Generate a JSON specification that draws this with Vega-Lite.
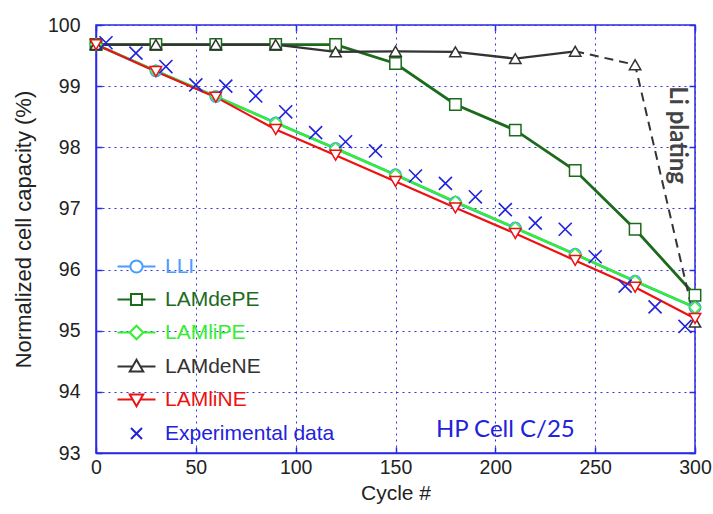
{
  "$schema": "https://vega.github.io/schema/vega-lite/v6.json",
  "width": 599,
  "height": 428,
  "autosize": "none",
  "padding": {"left": 96, "top": 25, "right": 18, "bottom": 61},
  "background": "white",
  "config": {
    "view": {"stroke": "#2a2ae6", "strokeWidth": 1.5},
    "axis": {
      "labelFont": "Liberation Sans",
      "titleFont": "Liberation Sans",
      "labelFontSize": 19.5,
      "titleFontSize": 21,
      "labelColor": "#222222",
      "titleColor": "#222222",
      "titleFontWeight": "normal",
      "domainColor": "#2a2ae6",
      "domainWidth": 1.5,
      "gridColor": "#3333e0",
      "gridDash": [2, 4],
      "gridWidth": 1,
      "gridOpacity": 1,
      "ticks": true,
      "tickSize": -6,
      "tickColor": "#2a2ae6",
      "tickWidth": 1.5,
      "labelFlush": false
    }
  },
  "resolve": {"axis": {"x": "independent", "y": "independent"}},
  "datasets": {
    "model": [
      {"series": "LLI", "cycle": 0, "cap": 99.68},
      {"series": "LLI", "cycle": 30, "cap": 99.25},
      {"series": "LLI", "cycle": 60, "cap": 98.83},
      {"series": "LLI", "cycle": 90, "cap": 98.40},
      {"series": "LLI", "cycle": 120, "cap": 97.98},
      {"series": "LLI", "cycle": 150, "cap": 97.55},
      {"series": "LLI", "cycle": 180, "cap": 97.10},
      {"series": "LLI", "cycle": 210, "cap": 96.68},
      {"series": "LLI", "cycle": 240, "cap": 96.25},
      {"series": "LLI", "cycle": 270, "cap": 95.81},
      {"series": "LLI", "cycle": 300, "cap": 95.38},
      {"series": "LAMdePE", "cycle": 0, "cap": 99.68},
      {"series": "LAMdePE", "cycle": 30, "cap": 99.68},
      {"series": "LAMdePE", "cycle": 60, "cap": 99.68},
      {"series": "LAMdePE", "cycle": 90, "cap": 99.68},
      {"series": "LAMdePE", "cycle": 120, "cap": 99.68},
      {"series": "LAMdePE", "cycle": 150, "cap": 99.37},
      {"series": "LAMdePE", "cycle": 180, "cap": 98.70},
      {"series": "LAMdePE", "cycle": 210, "cap": 98.28},
      {"series": "LAMdePE", "cycle": 240, "cap": 97.62},
      {"series": "LAMdePE", "cycle": 270, "cap": 96.66},
      {"series": "LAMdePE", "cycle": 300, "cap": 95.58},
      {"series": "LAMliPE", "cycle": 0, "cap": 99.68},
      {"series": "LAMliPE", "cycle": 30, "cap": 99.25},
      {"series": "LAMliPE", "cycle": 60, "cap": 98.83},
      {"series": "LAMliPE", "cycle": 90, "cap": 98.40},
      {"series": "LAMliPE", "cycle": 120, "cap": 97.98},
      {"series": "LAMliPE", "cycle": 150, "cap": 97.55},
      {"series": "LAMliPE", "cycle": 180, "cap": 97.11},
      {"series": "LAMliPE", "cycle": 210, "cap": 96.68},
      {"series": "LAMliPE", "cycle": 240, "cap": 96.25},
      {"series": "LAMliPE", "cycle": 270, "cap": 95.81},
      {"series": "LAMliPE", "cycle": 300, "cap": 95.38},
      {"series": "LAMdeNE", "cycle": 0, "cap": 99.68},
      {"series": "LAMdeNE", "cycle": 30, "cap": 99.68},
      {"series": "LAMdeNE", "cycle": 60, "cap": 99.68},
      {"series": "LAMdeNE", "cycle": 90, "cap": 99.68},
      {"series": "LAMdeNE", "cycle": 120, "cap": 99.56},
      {"series": "LAMdeNE", "cycle": 150, "cap": 99.57},
      {"series": "LAMdeNE", "cycle": 180, "cap": 99.56},
      {"series": "LAMdeNE", "cycle": 210, "cap": 99.45},
      {"series": "LAMdeNE", "cycle": 240, "cap": 99.57},
      {"series": "LAMdeNE", "cycle": 270, "cap": 99.35},
      {"series": "LAMdeNE", "cycle": 300, "cap": 95.14},
      {"series": "LAMliNE", "cycle": 0, "cap": 99.68},
      {"series": "LAMliNE", "cycle": 30, "cap": 99.24},
      {"series": "LAMliNE", "cycle": 60, "cap": 98.82},
      {"series": "LAMliNE", "cycle": 90, "cap": 98.29},
      {"series": "LAMliNE", "cycle": 120, "cap": 97.87},
      {"series": "LAMliNE", "cycle": 150, "cap": 97.44},
      {"series": "LAMliNE", "cycle": 180, "cap": 97.01},
      {"series": "LAMliNE", "cycle": 210, "cap": 96.59},
      {"series": "LAMliNE", "cycle": 240, "cap": 96.15},
      {"series": "LAMliNE", "cycle": 270, "cap": 95.71},
      {"series": "LAMliNE", "cycle": 300, "cap": 95.20}
    ],
    "exp": [
      {"series": "Experimental data", "cycle": 5, "cap": 99.71},
      {"series": "Experimental data", "cycle": 20, "cap": 99.54},
      {"series": "Experimental data", "cycle": 35, "cap": 99.32},
      {"series": "Experimental data", "cycle": 50, "cap": 99.02},
      {"series": "Experimental data", "cycle": 65, "cap": 99.00},
      {"series": "Experimental data", "cycle": 80, "cap": 98.84},
      {"series": "Experimental data", "cycle": 95, "cap": 98.58},
      {"series": "Experimental data", "cycle": 110, "cap": 98.24},
      {"series": "Experimental data", "cycle": 125, "cap": 98.09},
      {"series": "Experimental data", "cycle": 140, "cap": 97.94},
      {"series": "Experimental data", "cycle": 160, "cap": 97.53},
      {"series": "Experimental data", "cycle": 175, "cap": 97.41},
      {"series": "Experimental data", "cycle": 190, "cap": 97.19},
      {"series": "Experimental data", "cycle": 205, "cap": 96.98},
      {"series": "Experimental data", "cycle": 220, "cap": 96.76},
      {"series": "Experimental data", "cycle": 235, "cap": 96.66},
      {"series": "Experimental data", "cycle": 250, "cap": 96.21},
      {"series": "Experimental data", "cycle": 265, "cap": 95.73},
      {"series": "Experimental data", "cycle": 280, "cap": 95.39},
      {"series": "Experimental data", "cycle": 295, "cap": 95.07}
    ],
    "notes": [
      {"cycle": 291, "cap": 98.2, "label": "Li plating", "kind": "plating"},
      {"cycle": 205, "cap": 93.37, "label": "HP Cell C/25", "kind": "cell"}
    ]
  },
  "layer": [
    {
      "data": {"name": "model"},
      "transform": [{"filter": "!(datum.series === 'LAMdeNE' && datum.cycle > 240)"}],
      "mark": {"type": "line"},
      "encoding": {
        "x": {"field": "cycle", "type": "quantitative", "scale": {"domain": [0, 300], "nice": false}, "axis": {"values": [0, 50, 100, 150, 200, 250, 300], "title": "Cycle #", "labelPadding": 11, "titlePadding": 6}},
        "y": {"field": "cap", "type": "quantitative", "scale": {"domain": [93, 100], "nice": false, "zero": false}, "axis": {"values": [93, 94, 95, 96, 97, 98, 99, 100], "format": "d", "title": "Normalized cell capacity (%)", "labelPadding": 22, "titlePadding": 12, "titleFontSize": 22, "titleY": 204}},
        "stroke": {"field": "series", "type": "nominal"},
        "strokeWidth": {"field": "series", "type": "nominal", "legend": null, "scale": {"domain": ["LAMdePE", "LLI", "LAMliPE", "LAMdeNE", "LAMliNE", "Experimental data"], "range": [2.8, 2, 3.4, 1.3, 3.4, 1]}}
      }
    },
    {
      "data": {"name": "model"},
      "transform": [{"filter": "datum.series === 'LAMdeNE' && datum.cycle >= 240"}],
      "mark": {"type": "line", "stroke": "#333333", "strokeWidth": 2, "strokeDash": [9, 6]},
      "encoding": {
        "x": {"field": "cycle", "type": "quantitative", "axis": {"orient": "top", "values": [0, 50, 100, 150, 200, 250, 300], "labels": false, "grid": false, "title": null, "domain": false}},
        "y": {"field": "cap", "type": "quantitative", "axis": {"orient": "right", "values": [93, 94, 95, 96, 97, 98, 99, 100], "labels": false, "grid": false, "title": null, "domain": false}}
      }
    },
    {
      "data": {"name": "model"},
      "mark": {"type": "point", "fill": "white", "fillOpacity": 1, "opacity": 1, "strokeWidth": 1.5, "size": 130},
      "encoding": {
        "x": {"field": "cycle", "type": "quantitative", "axis": null},
        "y": {"field": "cap", "type": "quantitative", "axis": null},
        "stroke": {"field": "series", "type": "nominal"},
        "shape": {"field": "series", "type": "nominal", "legend": null}
      }
    },
    {
      "data": {"name": "exp"},
      "mark": {"type": "point", "strokeWidth": 1.6, "size": 170, "opacity": 1},
      "encoding": {
        "x": {"field": "cycle", "type": "quantitative", "axis": null},
        "y": {"field": "cap", "type": "quantitative", "axis": null},
        "stroke": {
          "field": "series", "type": "nominal",
          "scale": {"domain": ["LLI", "LAMdePE", "LAMliPE", "LAMdeNE", "LAMliNE", "Experimental data"], "range": ["#4a9cff", "#1c6b1c", "#33ee33", "#333333", "#ee1111", "#2222dd"]},
          "legend": {
            "orient": "none", "legendX": 30, "legendY": 231, "title": null,
            "labelFont": "Liberation Sans", "labelFontSize": 21, "labelLimit": 300,
            "labelColor": {"expr": "scale('stroke', datum.value)"},
            "symbolType": {"expr": "datum.value === 'LLI' ? 'M-3.1,0H-1M1,0H3.1M-1,0A1,1,0,1,1,1,0A1,1,0,1,1,-1,0Z' : datum.value === 'LAMdePE' ? 'M-3.1,0H-0.9M0.9,0H3.1M-0.9,-0.9H0.9V0.9H-0.9Z' : datum.value === 'LAMliPE' ? 'M-3.1,0H-1.1M1.1,0H3.1M0,-1.1L1.1,0L0,1.1L-1.1,0Z' : datum.value === 'LAMdeNE' ? 'M-3.1,0H-0.6M0.6,0H3.1M0,-1.1L1.1,0.8H-1.1Z' : datum.value === 'LAMliNE' ? 'M-3.1,0H-0.6M0.6,0H3.1M0,1.1L1.1,-0.8H-1.1Z' : 'M-0.9,-0.9L0.9,0.9M-0.9,0.9L0.9,-0.9'"},
            "symbolSize": 150, "symbolStrokeWidth": 2, "symbolFillColor": "white",
            "rowPadding": 11, "labelOffset": 18
          }
        },
        "shape": {
          "field": "series", "type": "nominal", "legend": null,
          "scale": {"domain": ["Experimental data", "LLI", "LAMdePE", "LAMliPE", "LAMdeNE", "LAMliNE"], "range": ["M-1,-1L1,1M-1,1L1,-1", "circle", "square", "diamond", "triangle-up", "triangle-down"]}
        }
      }
    },
    {
      "data": {"name": "notes"},
      "transform": [{"filter": "datum.kind === 'plating'"}],
      "mark": {"type": "text", "angle": 90, "font": "Lato", "fontSize": 24, "fontWeight": "bold", "color": "#444444", "align": "center", "baseline": "middle"},
      "encoding": {
        "x": {"field": "cycle", "type": "quantitative", "axis": null},
        "y": {"field": "cap", "type": "quantitative", "axis": null},
        "text": {"field": "label"}
      }
    },
    {
      "data": {"name": "notes"},
      "transform": [{"filter": "datum.kind === 'cell'"}],
      "mark": {"type": "text", "font": "Lato", "fontSize": 24, "color": "#2222dd", "align": "center", "baseline": "middle"},
      "encoding": {
        "x": {"field": "cycle", "type": "quantitative", "axis": null},
        "y": {"field": "cap", "type": "quantitative", "axis": null},
        "text": {"field": "label"}
      }
    }
  ]
}
